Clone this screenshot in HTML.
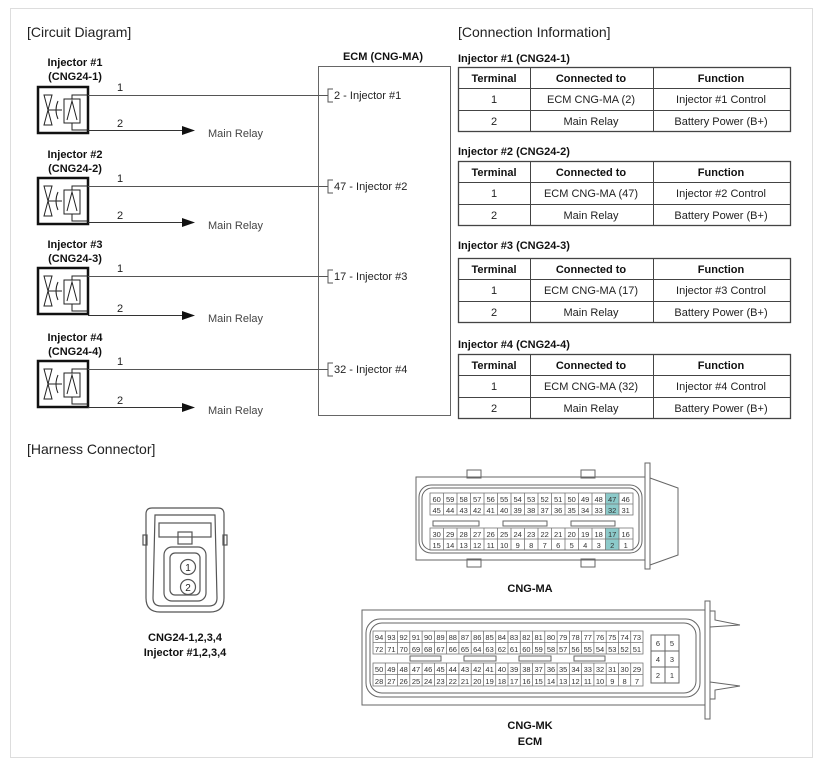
<!DOCTYPE html>
<html><head><meta charset="utf-8"><style>
body{margin:0;background:#fff}
svg{display:block}
text{font-family:"Liberation Sans",Arial,sans-serif}
.h{font-size:14px;fill:#222}
.b{font-size:11px;font-weight:bold;fill:#111}
.n{font-size:11px;fill:#222}
.g{font-size:11px;fill:#444}
.p{font-size:7.5px;fill:#333}
</style></head><body>
<svg width="823" height="765" viewBox="0 0 823 765" xmlns="http://www.w3.org/2000/svg">
<rect x="10.5" y="8.5" width="802" height="749" fill="none" stroke="#ddd"/>
<text class="h" x="27" y="37">[Circuit Diagram]</text>
<text class="h" x="458" y="37">[Connection Information]</text>
<text class="h" x="27" y="454">[Harness Connector]</text>

<!-- ECM box -->
<text class="b" x="383" y="60" text-anchor="middle">ECM (CNG-MA)</text>
<rect x="318.5" y="66.5" width="132" height="349" fill="none" stroke="#666"/>

<defs>
<g id="inj">
<rect x="38" y="0" width="50" height="46" fill="none" stroke="#111" stroke-width="2.5"/>
<path d="M44 8 L52 8 L44 38 L52 38 Z" fill="none" stroke="#222"/>
<line x1="48" y1="23" x2="62" y2="23" stroke="#222"/>
<path d="M58 14 Q54 23 58 32" fill="none" stroke="#222"/>
<rect x="64" y="12" width="16" height="24" fill="none" stroke="#222"/>
<path d="M67 33 L72 14 L77 33" fill="none" stroke="#222"/>
<polyline points="72,12 72,8 88,8" fill="none" stroke="#222"/>
<polyline points="72,36 72,43 88,43" fill="none" stroke="#222"/>
</g>
</defs>

<!-- Injector 1 -->
<text class="b" x="75" y="66" text-anchor="middle">Injector #1</text>
<text class="b" x="75" y="80" text-anchor="middle">(CNG24-1)</text>
<use href="#inj" y="87"/>
<text class="n" x="117" y="91">1</text>
<line x1="88" y1="95.5" x2="328" y2="95.5" stroke="#555"/>
<text class="n" x="117" y="127">2</text>
<line x1="88" y1="130.5" x2="185" y2="130.5" stroke="#333"/>
<path d="M182 126 L195 130.5 L182 135 Z" fill="#111"/>
<text class="g" x="208" y="137">Main Relay</text>
<polyline points="333,89 328,89 328,102 333,102" fill="none" stroke="#555"/>
<text class="n" x="334" y="99">2 - Injector #1</text>

<!-- Injector 2 -->
<text class="b" x="75" y="158" text-anchor="middle">Injector #2</text>
<text class="b" x="75" y="172" text-anchor="middle">(CNG24-2)</text>
<use href="#inj" y="178"/>
<text class="n" x="117" y="182">1</text>
<line x1="88" y1="186.5" x2="328" y2="186.5" stroke="#555"/>
<text class="n" x="117" y="219">2</text>
<line x1="88" y1="222.5" x2="185" y2="222.5" stroke="#333"/>
<path d="M182 218 L195 222.5 L182 227 Z" fill="#111"/>
<text class="g" x="208" y="229">Main Relay</text>
<polyline points="333,180 328,180 328,193 333,193" fill="none" stroke="#555"/>
<text class="n" x="334" y="190">47 - Injector #2</text>

<!-- Injector 3 -->
<text class="b" x="75" y="248" text-anchor="middle">Injector #3</text>
<text class="b" x="75" y="262" text-anchor="middle">(CNG24-3)</text>
<use href="#inj" y="268"/>
<text class="n" x="117" y="272">1</text>
<line x1="88" y1="276.5" x2="328" y2="276.5" stroke="#555"/>
<text class="n" x="117" y="312">2</text>
<line x1="88" y1="315.5" x2="185" y2="315.5" stroke="#333"/>
<path d="M182 311 L195 315.5 L182 320 Z" fill="#111"/>
<text class="g" x="208" y="322">Main Relay</text>
<polyline points="333,270 328,270 328,283 333,283" fill="none" stroke="#555"/>
<text class="n" x="334" y="280">17 - Injector #3</text>

<!-- Injector 4 -->
<text class="b" x="75" y="341" text-anchor="middle">Injector #4</text>
<text class="b" x="75" y="355" text-anchor="middle">(CNG24-4)</text>
<use href="#inj" y="361"/>
<text class="n" x="117" y="365">1</text>
<line x1="88" y1="369.5" x2="328" y2="369.5" stroke="#555"/>
<text class="n" x="117" y="404">2</text>
<line x1="88" y1="407.5" x2="185" y2="407.5" stroke="#333"/>
<path d="M182 403 L195 407.5 L182 412 Z" fill="#111"/>
<text class="g" x="208" y="414">Main Relay</text>
<polyline points="333,363 328,363 328,376 333,376" fill="none" stroke="#555"/>
<text class="n" x="334" y="373">32 - Injector #4</text>

<!-- Tables -->
<defs>
<g id="tbl" fill="none" stroke="#444">
<rect x="458.5" y="0.5" width="332" height="64" stroke-width="1.3"/>
<line x1="458" y1="21.5" x2="791" y2="21.5"/>
<line x1="458" y1="43.5" x2="791" y2="43.5"/>
<line x1="530.5" y1="0" x2="530.5" y2="65"/>
<line x1="653.5" y1="0" x2="653.5" y2="65"/>
</g>
</defs>
<g>
<text class="b" x="458" y="62">Injector #1 (CNG24-1)</text>
<use href="#tbl" y="67"/>
<text class="b" x="494" y="82" text-anchor="middle">Terminal</text>
<text class="b" x="591" y="82" text-anchor="middle">Connected to</text>
<text class="b" x="721" y="82" text-anchor="middle">Function</text>
<text class="n" x="494" y="103" text-anchor="middle">1</text>
<text class="n" x="591" y="103" text-anchor="middle">ECM CNG-MA (2)</text>
<text class="n" x="721" y="103" text-anchor="middle">Injector #1 Control</text>
<text class="n" x="494" y="125" text-anchor="middle">2</text>
<text class="n" x="591" y="125" text-anchor="middle">Main Relay</text>
<text class="n" x="721" y="125" text-anchor="middle">Battery Power (B+)</text>
</g>
<g>
<text class="b" x="458" y="155">Injector #2 (CNG24-2)</text>
<use href="#tbl" y="161"/>
<text class="b" x="494" y="176" text-anchor="middle">Terminal</text>
<text class="b" x="591" y="176" text-anchor="middle">Connected to</text>
<text class="b" x="721" y="176" text-anchor="middle">Function</text>
<text class="n" x="494" y="197" text-anchor="middle">1</text>
<text class="n" x="591" y="197" text-anchor="middle">ECM CNG-MA (47)</text>
<text class="n" x="721" y="197" text-anchor="middle">Injector #2 Control</text>
<text class="n" x="494" y="219" text-anchor="middle">2</text>
<text class="n" x="591" y="219" text-anchor="middle">Main Relay</text>
<text class="n" x="721" y="219" text-anchor="middle">Battery Power (B+)</text>
</g>
<g>
<text class="b" x="458" y="249">Injector #3 (CNG24-3)</text>
<use href="#tbl" y="258"/>
<text class="b" x="494" y="273" text-anchor="middle">Terminal</text>
<text class="b" x="591" y="273" text-anchor="middle">Connected to</text>
<text class="b" x="721" y="273" text-anchor="middle">Function</text>
<text class="n" x="494" y="294" text-anchor="middle">1</text>
<text class="n" x="591" y="294" text-anchor="middle">ECM CNG-MA (17)</text>
<text class="n" x="721" y="294" text-anchor="middle">Injector #3 Control</text>
<text class="n" x="494" y="316" text-anchor="middle">2</text>
<text class="n" x="591" y="316" text-anchor="middle">Main Relay</text>
<text class="n" x="721" y="316" text-anchor="middle">Battery Power (B+)</text>
</g>
<g>
<text class="b" x="458" y="348">Injector #4 (CNG24-4)</text>
<use href="#tbl" y="354"/>
<text class="b" x="494" y="369" text-anchor="middle">Terminal</text>
<text class="b" x="591" y="369" text-anchor="middle">Connected to</text>
<text class="b" x="721" y="369" text-anchor="middle">Function</text>
<text class="n" x="494" y="390" text-anchor="middle">1</text>
<text class="n" x="591" y="390" text-anchor="middle">ECM CNG-MA (32)</text>
<text class="n" x="721" y="390" text-anchor="middle">Injector #4 Control</text>
<text class="n" x="494" y="412" text-anchor="middle">2</text>
<text class="n" x="591" y="412" text-anchor="middle">Main Relay</text>
<text class="n" x="721" y="412" text-anchor="middle">Battery Power (B+)</text>
</g>

<!-- Injector harness connector -->
<g fill="none" stroke="#555" stroke-width="1.2">
<path d="M152 508 L218 508 Q224 508 224 514 L224 598 Q224 612 210 612 L160 612 Q146 612 146 598 L146 514 Q146 508 152 508 Z"/>
<path d="M155 515 L215 515 L217 598 Q217 606 209 606 L161 606 Q153 606 153 598 Z"/>
<rect x="159" y="523" width="52" height="14"/>
<rect x="178" y="532" width="14" height="12"/>
<rect x="143" y="535" width="4" height="10"/>
<rect x="223" y="535" width="4" height="10"/>
<rect x="164" y="547" width="42" height="54" rx="8"/>
<rect x="170" y="553" width="30" height="42" rx="5"/>
<circle cx="188" cy="567" r="7.5"/>
<circle cx="188" cy="587" r="7.5"/>
</g>
<text x="188" y="571" font-size="10" text-anchor="middle" fill="#222">1</text>
<text x="188" y="591" font-size="10" text-anchor="middle" fill="#222">2</text>
<text class="b" x="185" y="641" text-anchor="middle">CNG24-1,2,3,4</text>
<text class="b" x="185" y="656" text-anchor="middle">Injector #1,2,3,4</text>

<!-- CNG-MA -->
<g fill="none" stroke="#666">
<path d="M416 482 L416 477 L645 477 L645 560 L416 560 L416 555 Z"/>
<rect x="419" y="485" width="223" height="68" rx="12"/>
<rect x="422" y="488" width="217" height="62" rx="10"/>
<rect x="467" y="470" width="14" height="8"/><rect x="581" y="470" width="14" height="8"/>
<rect x="467" y="559" width="14" height="8"/><rect x="581" y="559" width="14" height="8"/>
<rect x="645" y="463" width="5" height="106" fill="#fff"/>
<polyline points="650,478 678,488 678,555 650,565"/>
<rect x="433" y="521" width="46" height="5"/><rect x="503" y="521" width="44" height="5"/><rect x="571" y="521" width="44" height="5"/>
</g>
<rect x="605.5" y="493" width="13.5" height="22" fill="#8ccaca"/>
<rect x="605.5" y="528" width="13.5" height="22" fill="#8ccaca"/>
<g fill="none" stroke="#777" stroke-width="0.8">
<rect x="430" y="493" width="203" height="22"/><line x1="430" y1="504" x2="633" y2="504"/>
<rect x="430" y="528" width="203" height="22"/><line x1="430" y1="539" x2="633" y2="539"/>
<path d="M443.5 493v22M457 493v22M470.5 493v22M484 493v22M497.5 493v22M511 493v22M524.5 493v22M538 493v22M551.5 493v22M565 493v22M578.5 493v22M592 493v22M605.5 493v22M619 493v22"/>
<path d="M443.5 528v22M457 528v22M470.5 528v22M484 528v22M497.5 528v22M511 528v22M524.5 528v22M538 528v22M551.5 528v22M565 528v22M578.5 528v22M592 528v22M605.5 528v22M619 528v22"/>
</g>
<g class="p" text-anchor="middle">
<text x="436.7" y="502" class="p">60</text><text x="450.2" y="502" class="p">59</text><text x="463.7" y="502" class="p">58</text><text x="477.2" y="502" class="p">57</text><text x="490.7" y="502" class="p">56</text><text x="504.2" y="502" class="p">55</text><text x="517.7" y="502" class="p">54</text><text x="531.2" y="502" class="p">53</text><text x="544.7" y="502" class="p">52</text><text x="558.2" y="502" class="p">51</text><text x="571.7" y="502" class="p">50</text><text x="585.2" y="502" class="p">49</text><text x="598.7" y="502" class="p">48</text><text x="612.2" y="502" class="p">47</text><text x="625.7" y="502" class="p">46</text>
<text x="436.7" y="513" class="p">45</text><text x="450.2" y="513" class="p">44</text><text x="463.7" y="513" class="p">43</text><text x="477.2" y="513" class="p">42</text><text x="490.7" y="513" class="p">41</text><text x="504.2" y="513" class="p">40</text><text x="517.7" y="513" class="p">39</text><text x="531.2" y="513" class="p">38</text><text x="544.7" y="513" class="p">37</text><text x="558.2" y="513" class="p">36</text><text x="571.7" y="513" class="p">35</text><text x="585.2" y="513" class="p">34</text><text x="598.7" y="513" class="p">33</text><text x="612.2" y="513" class="p">32</text><text x="625.7" y="513" class="p">31</text>
<text x="436.7" y="537" class="p">30</text><text x="450.2" y="537" class="p">29</text><text x="463.7" y="537" class="p">28</text><text x="477.2" y="537" class="p">27</text><text x="490.7" y="537" class="p">26</text><text x="504.2" y="537" class="p">25</text><text x="517.7" y="537" class="p">24</text><text x="531.2" y="537" class="p">23</text><text x="544.7" y="537" class="p">22</text><text x="558.2" y="537" class="p">21</text><text x="571.7" y="537" class="p">20</text><text x="585.2" y="537" class="p">19</text><text x="598.7" y="537" class="p">18</text><text x="612.2" y="537" class="p">17</text><text x="625.7" y="537" class="p">16</text>
<text x="436.7" y="548" class="p">15</text><text x="450.2" y="548" class="p">14</text><text x="463.7" y="548" class="p">13</text><text x="477.2" y="548" class="p">12</text><text x="490.7" y="548" class="p">11</text><text x="504.2" y="548" class="p">10</text><text x="517.7" y="548" class="p">9</text><text x="531.2" y="548" class="p">8</text><text x="544.7" y="548" class="p">7</text><text x="558.2" y="548" class="p">6</text><text x="571.7" y="548" class="p">5</text><text x="585.2" y="548" class="p">4</text><text x="598.7" y="548" class="p">3</text><text x="612.2" y="548" class="p">2</text><text x="625.7" y="548" class="p">1</text>
</g>
<text class="b" x="530" y="592" text-anchor="middle">CNG-MA</text>

<!-- CNG-MK -->
<g fill="none" stroke="#666">
<path d="M362 618 L362 610 L705 610 L705 705 L362 705 L362 697 Z"/>
<rect x="366" y="619" width="334" height="78" rx="14"/>
<rect x="370" y="623" width="326" height="70" rx="12"/>
<rect x="705" y="601" width="5" height="118" fill="#fff"/>
<polyline points="710,611 715,611 715,620 740,625"/>
<polyline points="710,627 740,625"/>
<polyline points="710,699 715,699 715,690 740,686"/>
<polyline points="710,682 740,686"/>
<rect x="410" y="656" width="31" height="5"/><rect x="464" y="656" width="32" height="5"/><rect x="519" y="656" width="32" height="5"/><rect x="574" y="656" width="31" height="5"/>
<rect x="651" y="635" width="28" height="48"/><line x1="665" y1="635" x2="665" y2="683"/><line x1="651" y1="651" x2="679" y2="651"/><line x1="651" y1="667" x2="679" y2="667"/>
</g>
<g fill="none" stroke="#777" stroke-width="0.8">
<rect x="373" y="631" width="270" height="23"/><line x1="373" y1="642.5" x2="643" y2="642.5"/>
<rect x="373" y="663" width="270" height="23"/><line x1="373" y1="674.5" x2="643" y2="674.5"/>
<path d="M385.3 631v23M397.5 631v23M409.8 631v23M422.1 631v23M434.4 631v23M446.6 631v23M458.9 631v23M471.2 631v23M483.5 631v23M495.7 631v23M508 631v23M520.3 631v23M532.5 631v23M544.8 631v23M557.1 631v23M569.4 631v23M581.6 631v23M593.9 631v23M606.2 631v23M618.5 631v23M630.7 631v23"/>
<path d="M385.3 663v23M397.5 663v23M409.8 663v23M422.1 663v23M434.4 663v23M446.6 663v23M458.9 663v23M471.2 663v23M483.5 663v23M495.7 663v23M508 663v23M520.3 663v23M532.5 663v23M544.8 663v23M557.1 663v23M569.4 663v23M581.6 663v23M593.9 663v23M606.2 663v23M618.5 663v23M630.7 663v23"/>
</g>
<g text-anchor="middle">
<text class="p" x="379.1" y="640">94</text><text class="p" x="391.4" y="640">93</text><text class="p" x="403.7" y="640">92</text><text class="p" x="416" y="640">91</text><text class="p" x="428.2" y="640">90</text><text class="p" x="440.5" y="640">89</text><text class="p" x="452.8" y="640">88</text><text class="p" x="465" y="640">87</text><text class="p" x="477.3" y="640">86</text><text class="p" x="489.6" y="640">85</text><text class="p" x="501.9" y="640">84</text><text class="p" x="514.1" y="640">83</text><text class="p" x="526.4" y="640">82</text><text class="p" x="538.7" y="640">81</text><text class="p" x="551" y="640">80</text><text class="p" x="563.2" y="640">79</text><text class="p" x="575.5" y="640">78</text><text class="p" x="587.8" y="640">77</text><text class="p" x="600" y="640">76</text><text class="p" x="612.3" y="640">75</text><text class="p" x="624.6" y="640">74</text><text class="p" x="636.9" y="640">73</text>
<text class="p" x="379.1" y="652">72</text><text class="p" x="391.4" y="652">71</text><text class="p" x="403.7" y="652">70</text><text class="p" x="416" y="652">69</text><text class="p" x="428.2" y="652">68</text><text class="p" x="440.5" y="652">67</text><text class="p" x="452.8" y="652">66</text><text class="p" x="465" y="652">65</text><text class="p" x="477.3" y="652">64</text><text class="p" x="489.6" y="652">63</text><text class="p" x="501.9" y="652">62</text><text class="p" x="514.1" y="652">61</text><text class="p" x="526.4" y="652">60</text><text class="p" x="538.7" y="652">59</text><text class="p" x="551" y="652">58</text><text class="p" x="563.2" y="652">57</text><text class="p" x="575.5" y="652">56</text><text class="p" x="587.8" y="652">55</text><text class="p" x="600" y="652">54</text><text class="p" x="612.3" y="652">53</text><text class="p" x="624.6" y="652">52</text><text class="p" x="636.9" y="652">51</text>
<text class="p" x="379.1" y="672">50</text><text class="p" x="391.4" y="672">49</text><text class="p" x="403.7" y="672">48</text><text class="p" x="416" y="672">47</text><text class="p" x="428.2" y="672">46</text><text class="p" x="440.5" y="672">45</text><text class="p" x="452.8" y="672">44</text><text class="p" x="465" y="672">43</text><text class="p" x="477.3" y="672">42</text><text class="p" x="489.6" y="672">41</text><text class="p" x="501.9" y="672">40</text><text class="p" x="514.1" y="672">39</text><text class="p" x="526.4" y="672">38</text><text class="p" x="538.7" y="672">37</text><text class="p" x="551" y="672">36</text><text class="p" x="563.2" y="672">35</text><text class="p" x="575.5" y="672">34</text><text class="p" x="587.8" y="672">33</text><text class="p" x="600" y="672">32</text><text class="p" x="612.3" y="672">31</text><text class="p" x="624.6" y="672">30</text><text class="p" x="636.9" y="672">29</text>
<text class="p" x="379.1" y="684">28</text><text class="p" x="391.4" y="684">27</text><text class="p" x="403.7" y="684">26</text><text class="p" x="416" y="684">25</text><text class="p" x="428.2" y="684">24</text><text class="p" x="440.5" y="684">23</text><text class="p" x="452.8" y="684">22</text><text class="p" x="465" y="684">21</text><text class="p" x="477.3" y="684">20</text><text class="p" x="489.6" y="684">19</text><text class="p" x="501.9" y="684">18</text><text class="p" x="514.1" y="684">17</text><text class="p" x="526.4" y="684">16</text><text class="p" x="538.7" y="684">15</text><text class="p" x="551" y="684">14</text><text class="p" x="563.2" y="684">13</text><text class="p" x="575.5" y="684">12</text><text class="p" x="587.8" y="684">11</text><text class="p" x="600" y="684">10</text><text class="p" x="612.3" y="684">9</text><text class="p" x="624.6" y="684">8</text><text class="p" x="636.9" y="684">7</text>
<text class="p" x="658" y="646">6</text><text class="p" x="672" y="646">5</text>
<text class="p" x="658" y="662">4</text><text class="p" x="672" y="662">3</text>
<text class="p" x="658" y="678">2</text><text class="p" x="672" y="678">1</text>
</g>
<text class="b" x="530" y="729" text-anchor="middle">CNG-MK</text>
<text class="b" x="530" y="745" text-anchor="middle">ECM</text>
</svg>
</body></html>
